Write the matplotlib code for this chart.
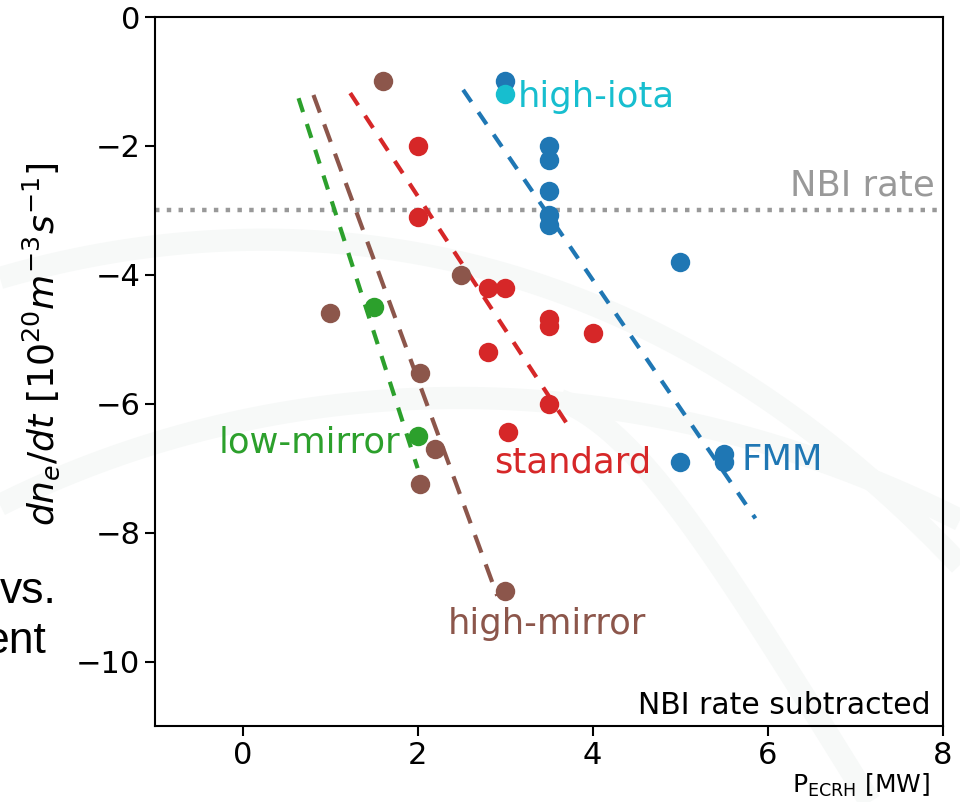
import numpy as np
import matplotlib.pyplot as plt
from matplotlib.lines import Line2D

# FMM configuration (blue)
fmm_p = [3.0, 3.5, 3.5, 3.5, 3.5, 3.5, 5.0, 5.0, 5.5, 5.5]
fmm_r = [-1.0, -2.0, -2.22, -2.7, -3.07, -3.23, -3.8, -6.9, -6.78, -6.9]
fmm_fit_p = [2.52, 5.86]
fmm_fit_r = [-1.13, -7.78]

# high-iota (cyan)
iota_p = [3.0]
iota_r = [-1.2]

# standard (red)
std_p = [2.0, 2.0, 2.8, 3.0, 3.5, 3.5, 4.0, 2.8, 3.5, 3.03]
std_r = [-2.0, -3.1, -4.2, -4.2, -4.68, -4.8, -4.9, -5.2, -6.0, -6.44]
std_fit_p = [1.23, 3.74]
std_fit_r = [-1.18, -6.38]

# high-mirror (brown)
hm_p = [1.6, 2.5, 1.0, 2.03, 2.2, 2.03, 3.0]
hm_r = [-1.0, -4.0, -4.6, -5.53, -6.71, -7.24, -8.9]
hm_fit_p = [0.81, 2.91]
hm_fit_r = [-1.21, -8.98]

# low-mirror (green)
lm_p = [1.5, 2.0]
lm_r = [-4.5, -6.5]
lm_fit_p = [0.64, 2.0]
lm_fit_r = [-1.26, -7.0]

nbi_rate = -3.0


def bezier(pts, n=80):
    # cubic bezier through 4 control points (pixel coords)
    p = np.array(pts, dtype=float)
    t = np.linspace(0, 1, n)[:, None]
    return ((1 - t) ** 3 * p[0] + 3 * (1 - t) ** 2 * t * p[1]
            + 3 * (1 - t) * t ** 2 * p[2] + t ** 3 * p[3])


fig = plt.figure(figsize=(9.6, 8.02), dpi=100)
fig.patch.set_facecolor('white')

# faint swooshes of the slide background
swooshes = [
    [(0, 278), (250, 205), (620, 205), (960, 565)],
    [(0, 505), (250, 380), (600, 340), (960, 520)],
    [(560, 400), (640, 430), (720, 560), (870, 802)],
]
for ctrl in swooshes:
    c = bezier(ctrl)
    fig.add_artist(Line2D(c[:, 0] / 960, 1 - c[:, 1] / 802, color='#f7f9f8',
                          lw=16, zorder=0, solid_capstyle='butt'))

fig.text(57 / 960, 1 - 603 / 802, 'vs.', ha='right', va='baseline',
         fontsize=32, family='Liberation Sans')
fig.text(46 / 960, 1 - 653 / 802, 'ent', ha='right', va='baseline',
         fontsize=32, family='Liberation Sans')

ax = fig.add_axes([0.1615, 0.0948, 0.8205, 0.884])
ax.patch.set_visible(False)

ax.axhline(nbi_rate, color='#999999', ls=':', lw=3.2, zorder=1)

ax.plot(lm_fit_p, lm_fit_r, color='tab:green', ls=(0, (3.5, 3)), lw=3)
ax.plot(hm_fit_p, hm_fit_r, color='tab:brown', ls=(0, (4.5, 3)), lw=3)
ax.plot(std_fit_p, std_fit_r, color='tab:red', ls=(0, (3.5, 3)), lw=3)
ax.plot(fmm_fit_p, fmm_fit_r, color='tab:blue', ls=(0, (3.5, 3)), lw=3)

ms = 14
ax.plot(fmm_p, fmm_r, 'o', color='tab:blue', ms=ms, mec='none')
ax.plot(iota_p, iota_r, 'o', color='tab:cyan', ms=ms, mec='none')
ax.plot(std_p, std_r, 'o', color='tab:red', ms=ms, mec='none')
ax.plot(hm_p, hm_r, 'o', color='tab:brown', ms=ms, mec='none')
ax.plot(lm_p, lm_r, 'o', color='tab:green', ms=ms, mec='none')

fs = 25.5
ax.text(3.15, -1.40, 'high-iota', color='tab:cyan', fontsize=fs, va='baseline')
ax.text(1.80, -6.75, 'low-mirror', color='tab:green', fontsize=fs, va='baseline', ha='right')
ax.text(2.88, -7.07, 'standard', color='tab:red', fontsize=fs, va='baseline')
ax.text(5.70, -7.03, 'FMM', color='tab:blue', fontsize=fs, va='baseline')
ax.text(2.35, -9.57, 'high-mirror', color='tab:brown', fontsize=fs, va='baseline')

ax.text(0.99, nbi_rate + 0.12, 'NBI rate', color='#999999', fontsize=fs,
        ha='right', va='bottom', transform=ax.get_yaxis_transform())
ax.text(0.985, 0.008, 'NBI rate subtracted', fontsize=21.5, ha='right', va='bottom',
        transform=ax.transAxes)

ax.set_xlim(-1, 8)
ax.set_ylim(-11, 0)
ax.set_xticks([0, 2, 4, 6, 8])
ax.set_yticks([0, -2, -4, -6, -8, -10])
ax.tick_params(labelsize=22, width=1.5, length=7)
for sp in ax.spines.values():
    sp.set_linewidth(1.5)

ax.set_ylabel(r'$dn_e/dt\ [10^{20}m^{-3}s^{-1}]$', fontsize=26)
ax.yaxis.set_label_coords(-0.118, 0.539)
ax.set_xlabel(r'P$_{\mathrm{ECRH}}$ [MW]', fontsize=18, ha='right')
ax.xaxis.set_label_coords((930 - 155) / 787, -0.064)

fig.savefig('out.png', dpi=100)
